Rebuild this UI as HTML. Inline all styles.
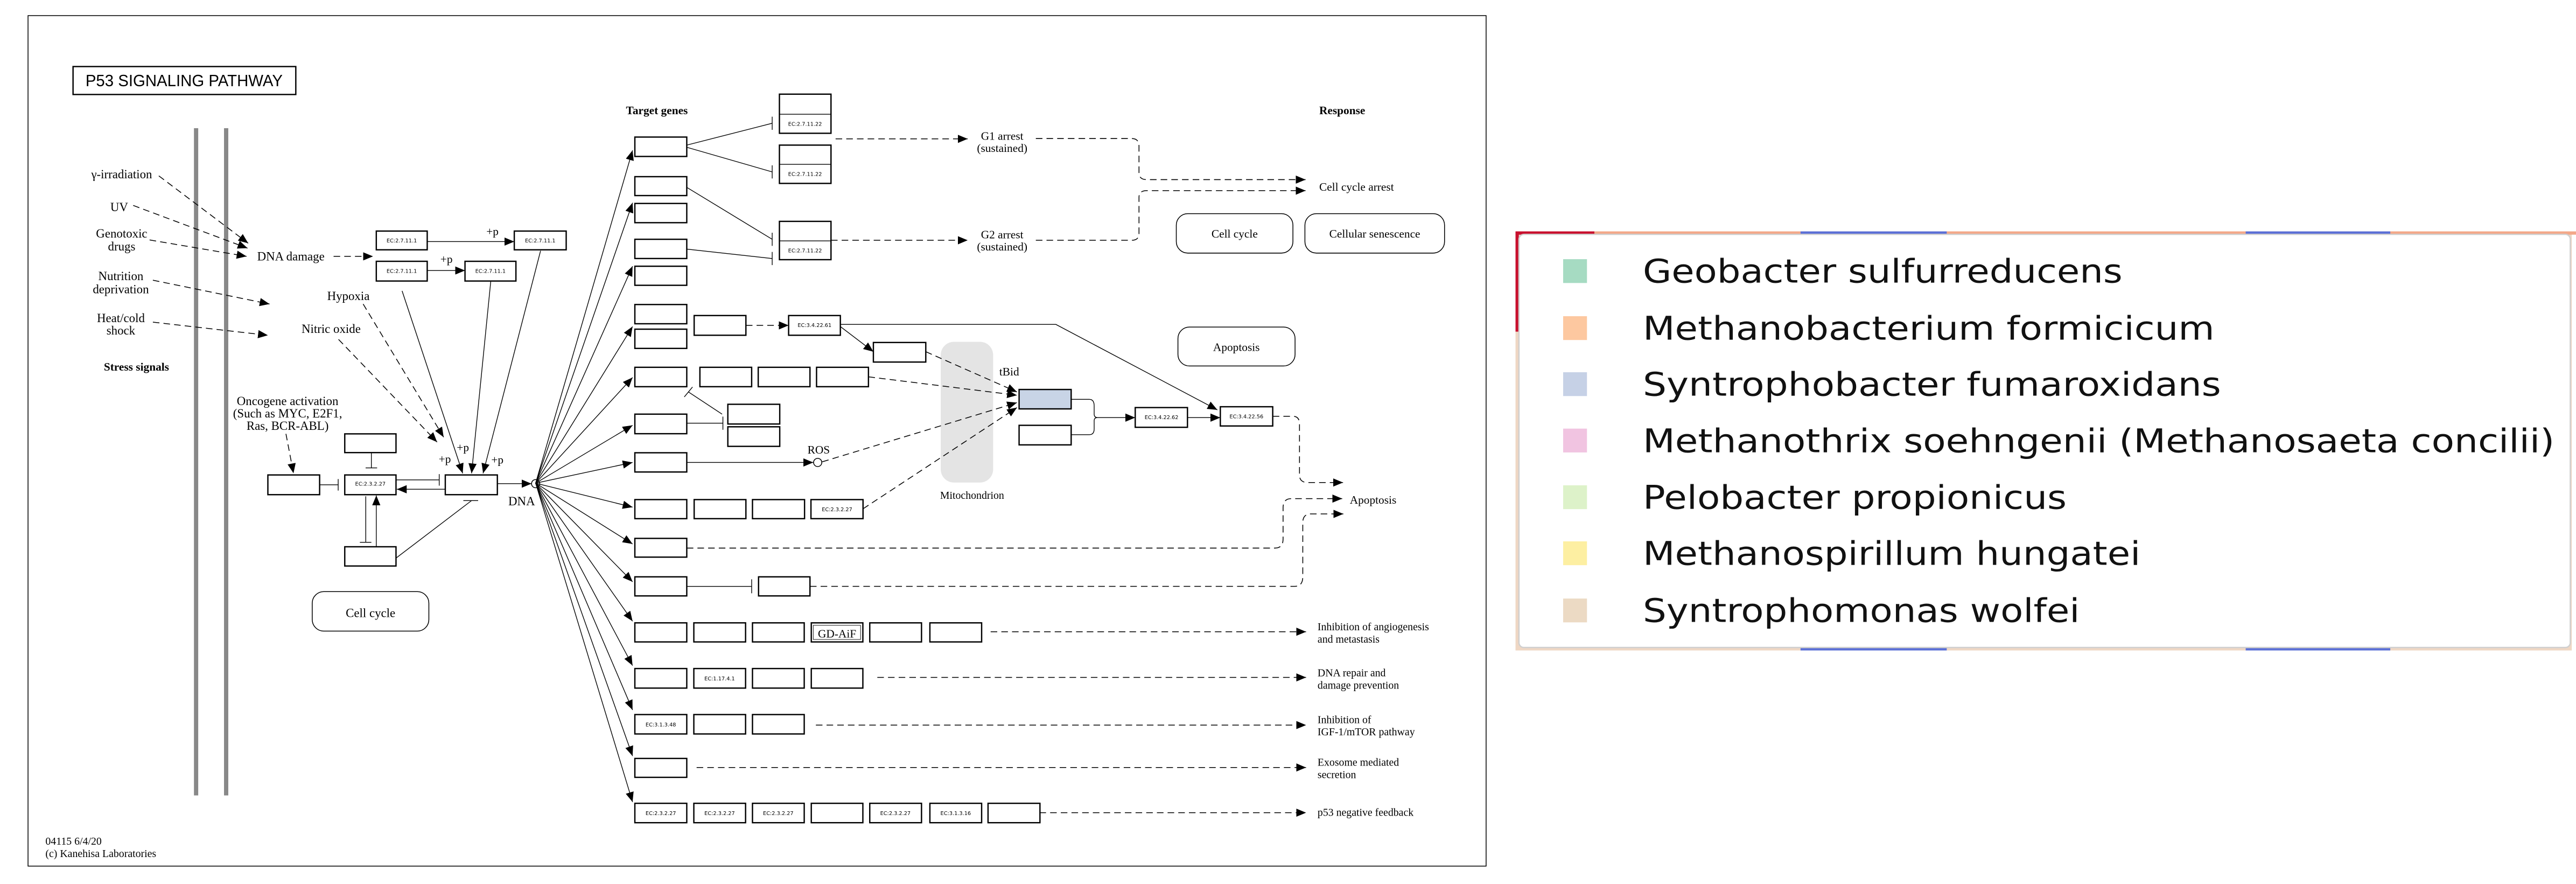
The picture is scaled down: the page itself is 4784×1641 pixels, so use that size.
<!DOCTYPE html>
<html><head><meta charset="utf-8"><style>
html,body{margin:0;padding:0;background:#fff;}
svg{display:block;}
.s{font-family:"Liberation Serif",serif;fill:#000;}
.ec{font-family:"DejaVu Sans","Liberation Sans",sans-serif;font-size:3.2px;fill:#000;text-anchor:middle;}
.b{fill:#fff;stroke:#000;stroke-width:0.8;}
.l{stroke:#000;stroke-width:0.45;fill:none;}
.d{stroke:#000;stroke-width:0.5;fill:none;stroke-dasharray:4,2.5;}
.lg{font-family:"DejaVu Sans",sans-serif;font-size:20px;fill:#111;}
</style></head><body>
<svg width="4784" height="1641" viewBox="0 0 1568 537.9" xmlns="http://www.w3.org/2000/svg">
<defs>
<marker id="a" markerUnits="userSpaceOnUse" markerWidth="7" markerHeight="6" refX="6" refY="2.5" orient="auto"><path d="M0,0 L6,2.5 L0,5 z" fill="#000"/></marker>
</defs>
<rect width="1568" height="538" fill="#fff"/>
<rect x="17" y="9.5" width="887.6" height="517.5" fill="#fff" stroke="#000" stroke-width="0.5"/>
<rect x="44.4" y="40.5" width="135.6" height="17" fill="#fff" stroke="#000" stroke-width="0.8"/>
<text x="112" y="52.5" font-family="Liberation Sans,sans-serif" font-size="10" text-anchor="middle" textLength="120" lengthAdjust="spacingAndGlyphs">P53 SIGNALING PATHWAY</text>
<rect x="118" y="78" width="2.6" height="406" fill="#888"/>
<rect x="136.3" y="78" width="2.6" height="406" fill="#888"/>
<rect x="190" y="360" width="71" height="24" rx="7" fill="#fff" stroke="#000" stroke-width="0.5"/>
<g class="s" font-size="7.5" text-anchor="middle">
<text x="74" y="108.5">γ-irradiation</text>
<text x="72.5" y="128.5">UV</text>
<text x="74" y="144.5">Genotoxic</text><text x="74" y="152.5">drugs</text>
<text x="73.5" y="170.5">Nutrition</text><text x="73.5" y="178.5">deprivation</text>
<text x="73.5" y="196">Heat/cold</text><text x="73.5" y="203.5">shock</text>
<text x="83" y="225.5" font-weight="bold" font-size="7">Stress signals</text>
<text x="177" y="158.5" >DNA damage</text>
<text x="212" y="182.5">Hypoxia</text>
<text x="201.5" y="202.5">Nitric oxide</text>
<text x="175" y="246.5">Oncogene activation</text>
<text x="175" y="254">(Such as MYC, E2F1,</text>
<text x="175" y="261.5">Ras, BCR-ABL)</text>
<text x="317.5" y="307.5">DNA</text>
<text x="225.5" y="375.5">Cell cycle</text>
</g>
<g class="d" marker-end="url(#a)">
<line x1="96.6" y1="107" x2="151" y2="148"/>
<line x1="81" y1="125" x2="150.6" y2="151"/>
<line x1="91" y1="146" x2="150" y2="156"/>
<line x1="93" y1="170.5" x2="164" y2="185"/>
<line x1="93" y1="196" x2="163" y2="204"/>
<line x1="203" y1="156" x2="227" y2="156"/>
<line x1="221" y1="185" x2="270" y2="266"/>
<line x1="206" y1="206.5" x2="266" y2="269"/>
<line x1="174" y1="264" x2="178.6" y2="288"/>
</g>
<rect class="b" x="229" y="140.6" width="31" height="11.4"/>
<rect class="b" x="229" y="159" width="31" height="12"/>
<rect class="b" x="283" y="159" width="31" height="12"/>
<rect class="b" x="313" y="140.6" width="31.6" height="11.4"/>
<g class="ec"><text x="244.5" y="147.5">EC:2.7.11.1</text><text x="244.5" y="166">EC:2.7.11.1</text><text x="298.5" y="166">EC:2.7.11.1</text><text x="328.8" y="147.5">EC:2.7.11.1</text></g>
<g class="l" marker-end="url(#a)">
<line x1="260" y1="147" x2="313" y2="147"/>
<line x1="260" y1="164.6" x2="283" y2="164.6"/>
<line x1="244.7" y1="177" x2="281.6" y2="288"/>
<line x1="298.7" y1="171" x2="287" y2="288"/>
<line x1="329" y1="152.6" x2="294" y2="288"/>
<line x1="302.7" y1="294.3" x2="323.5" y2="294.3"/>
<line x1="271" y1="297.7" x2="241.5" y2="297.7"/>
<line x1="229" y1="332.7" x2="229" y2="301.5"/>
</g>
<g class="s" font-size="7"><text x="296" y="143">+p</text><text x="268" y="160">+p</text><text x="278" y="274.5">+p</text><text x="267" y="281.5">+p</text><text x="299" y="282">+p</text></g>
<rect class="b" x="271" y="289" width="31.7" height="12"/>
<rect class="b" x="209.8" y="289" width="31.2" height="12"/>
<text class="ec" x="225.4" y="295.5">EC:2.3.2.27</text>
<rect class="b" x="209.8" y="264" width="31.2" height="11.4"/>
<rect class="b" x="209.8" y="332.7" width="31.2" height="11.7"/>
<rect class="b" x="163" y="289" width="31.5" height="12"/>
<circle cx="326" cy="294.3" r="2.5" fill="#fff" stroke="#000" stroke-width="0.5"/>
<g class="l">
<line x1="194.5" y1="295" x2="205.8" y2="295"/><line x1="205.8" y1="291.5" x2="205.8" y2="298.5"/>
<line x1="226" y1="275.4" x2="226" y2="284.7"/><line x1="222.5" y1="284.7" x2="229.5" y2="284.7"/>
<line x1="241" y1="292" x2="267.3" y2="292"/><line x1="267.3" y1="288.5" x2="267.3" y2="295.5"/>
<line x1="222.6" y1="302" x2="222.6" y2="330"/><line x1="219" y1="330" x2="226" y2="330"/>
<line x1="241" y1="339.6" x2="287" y2="304.6"/><line x1="282" y1="304.6" x2="291" y2="304.6"/>
</g>
<g class="s" font-size="6.5"><text x="27.6" y="514">04115 6/4/20</text><text x="27.6" y="521.5">(c) Kanehisa Laboratories</text></g>
<g class="s" font-weight="bold" font-size="7"><text x="381" y="69.5">Target genes</text><text x="803" y="69.5">Response</text></g>
<g class="l" marker-end="url(#a)">
<line x1="326" y1="294" x2="385" y2="91.5"/><line x1="326" y1="294" x2="385" y2="123.4"/>
<line x1="326" y1="294" x2="385" y2="162"/><line x1="326" y1="294" x2="385" y2="198.7"/>
<line x1="326" y1="294" x2="385" y2="229.7"/><line x1="326" y1="294" x2="385" y2="258.8"/>
<line x1="326" y1="294" x2="385" y2="281.4"/><line x1="326" y1="294" x2="385" y2="308.6"/>
<line x1="326" y1="294" x2="385" y2="331"/><line x1="326" y1="294" x2="385" y2="354"/>
<line x1="326" y1="294" x2="385" y2="378"/><line x1="326" y1="294" x2="385" y2="405"/>
<line x1="326" y1="294" x2="385" y2="432"/><line x1="326" y1="294" x2="385" y2="460"/>
<line x1="326" y1="294" x2="385" y2="488"/>
</g>
<g class="b">
<rect x="386.4" y="83.4" width="31.6" height="11.8"/><rect x="386.4" y="107.5" width="31.6" height="11.5"/>
<rect x="386.4" y="123.8" width="31.6" height="11.7"/><rect x="386.4" y="145.6" width="31.6" height="11.7"/>
<rect x="386.4" y="162" width="31.6" height="11.6"/><rect x="386.4" y="185.3" width="31.6" height="11.7"/>
<rect x="386.4" y="200.3" width="31.6" height="11.7"/><rect x="386.4" y="223.5" width="31.6" height="11.8"/>
<rect x="386.4" y="252" width="31.6" height="11.9"/><rect x="386.4" y="275.5" width="31.6" height="11.7"/>
<rect x="386.4" y="304" width="31.6" height="11.6"/><rect x="386.4" y="327.6" width="31.6" height="11.4"/>
<rect x="386.4" y="351" width="31.6" height="11.6"/><rect x="386.4" y="379" width="31.6" height="11.6"/>
<rect x="386.4" y="406.8" width="31.6" height="11.9"/><rect x="386.4" y="434.8" width="31.6" height="11.8"/>
<rect x="386.4" y="461.5" width="31.6" height="11.5"/><rect x="386.4" y="488.8" width="31.6" height="11.8"/>
<rect x="474.4" y="57.3" width="31.4" height="23.8"/><rect x="474.4" y="88.3" width="31.4" height="23.3"/><rect x="474.4" y="134.7" width="31.4" height="23.3"/>
<rect x="422.5" y="192" width="31.5" height="12"/><rect x="480" y="192" width="31.5" height="12"/><rect x="531.6" y="208.4" width="31.9" height="11.9"/>
<rect x="426" y="223.5" width="31.5" height="11.8"/><rect x="461.5" y="223.5" width="31.5" height="11.8"/><rect x="497" y="223.5" width="31.6" height="11.8"/>
<rect x="443" y="246" width="31.6" height="12"/><rect x="443" y="259.7" width="31.6" height="11.9"/>
<rect x="422.5" y="304" width="31.5" height="11.6"/><rect x="458" y="304" width="31.7" height="11.6"/><rect x="493.6" y="304" width="31.7" height="11.6"/>
<rect x="620.3" y="258.8" width="31.7" height="11.9"/>
<rect x="691" y="248" width="31.8" height="12"/><rect x="742.8" y="247.5" width="31.9" height="11.7"/>
<rect x="461.7" y="351" width="31.3" height="11.6"/>
<rect x="422.3" y="379" width="31.5" height="11.6"/><rect x="458" y="379" width="31.5" height="11.6"/><rect x="493.8" y="379" width="31.4" height="11.6"/><rect x="529.4" y="379" width="31.5" height="11.6"/><rect x="566" y="379" width="31.5" height="11.6"/>
<rect x="422.3" y="406.8" width="31.5" height="11.9"/><rect x="458" y="406.8" width="31.5" height="11.9"/><rect x="493.8" y="406.8" width="31.4" height="11.9"/>
<rect x="422.3" y="434.8" width="31.5" height="11.8"/><rect x="458" y="434.8" width="31.5" height="11.8"/>
<rect x="422.3" y="488.8" width="31.5" height="11.8"/><rect x="458" y="488.8" width="31.5" height="11.8"/><rect x="493.8" y="488.8" width="31.4" height="11.8"/><rect x="529.4" y="488.8" width="31.5" height="11.8"/><rect x="566" y="488.8" width="31.5" height="11.8"/><rect x="601.4" y="488.8" width="31.6" height="11.8"/>
</g>
<rect x="495" y="380.5" width="28.8" height="8.6" fill="none" stroke="#000" stroke-width="0.3"/>
<g class="l"><line x1="474.4" y1="69.5" x2="505.8" y2="69.5"/><line x1="474.4" y1="100" x2="505.8" y2="100"/><line x1="474.4" y1="146.6" x2="505.8" y2="146.6"/></g>
<g class="ec">
<text x="490" y="76.5">EC:2.7.11.22</text><text x="490" y="107">EC:2.7.11.22</text><text x="490" y="153.5">EC:2.7.11.22</text>
<text x="495.8" y="199">EC:3.4.22.61</text><text x="509.5" y="311">EC:2.3.2.27</text>
<text x="707" y="255">EC:3.4.22.62</text><text x="758.7" y="254.5">EC:3.4.22.56</text>
<text x="438" y="414">EC:1.17.4.1</text><text x="402.2" y="442">EC:3.1.3.48</text>
<text x="402.2" y="496">EC:2.3.2.27</text><text x="438" y="496">EC:2.3.2.27</text><text x="473.7" y="496">EC:2.3.2.27</text><text x="545" y="496">EC:2.3.2.27</text><text x="581.7" y="496">EC:3.1.3.16</text>
</g>
<text class="s" x="509.5" y="388" font-size="7" text-anchor="middle">GD-AiF</text>
<g class="l">
<line x1="418" y1="88.3" x2="470" y2="75"/><line x1="470" y1="71" x2="470" y2="79"/>
<line x1="418" y1="89.6" x2="470" y2="104.6"/><line x1="470" y1="100.6" x2="470" y2="108.6"/>
<line x1="418" y1="114" x2="470" y2="145.6"/><line x1="470" y1="141.6" x2="470" y2="149.6"/>
<line x1="418" y1="151.6" x2="470" y2="157.3"/><line x1="470" y1="153.3" x2="470" y2="161.3"/>
<line x1="439.5" y1="252" x2="419" y2="238.5"/><line x1="416.5" y1="241.5" x2="421.5" y2="235.5"/>
<line x1="418" y1="257.5" x2="440" y2="257.5"/><line x1="440" y1="253.5" x2="440" y2="261.5"/>
<line x1="418" y1="356.8" x2="457.5" y2="356.8"/><line x1="457.5" y1="352.5" x2="457.5" y2="361"/>
</g>
<g class="l" marker-end="url(#a)">
<line x1="418" y1="281.4" x2="495" y2="281.4"/>
<line x1="511.5" y1="198.7" x2="531.6" y2="214"/>
<polyline points="511.5,197.4 642.7,197.4 741,249.4"/>
<line x1="722.8" y1="254.1" x2="742.8" y2="254.1"/>
</g>
<path class="l" d="M652,243 H663 Q666,243 666,247 V252 Q666,254 668,254.1 H691" marker-end="url(#a)"/>
<path class="l" d="M652,264.5 H663 Q666,264.5 666,261 V256 Q666,254.1 668,254.1"/>
<circle cx="497.7" cy="281.4" r="2.5" fill="#fff" stroke="#000" stroke-width="0.5"/>
<text class="s" x="498.3" y="276" font-size="7" text-anchor="middle">ROS</text>
<rect x="572.6" y="208" width="31.9" height="85.6" rx="8" fill="#e4e4e4"/>
<text class="s" x="591.7" y="303.5" font-size="6.5" text-anchor="middle">Mitochondrion</text>
<text class="s" x="614.3" y="228.5" font-size="7" text-anchor="middle">tBid</text>
<rect x="620.3" y="237" width="31.7" height="11.8" fill="#c8d4e6" stroke="#000" stroke-width="0.8"/>
<g class="d" marker-end="url(#a)">
<line x1="454" y1="198" x2="480" y2="198"/>
<line x1="563.5" y1="214" x2="619" y2="238.5"/>
<line x1="528.6" y1="229.3" x2="619" y2="240.5"/>
<line x1="500.5" y1="281" x2="619" y2="245"/>
<line x1="525.3" y1="309.6" x2="619" y2="248"/>
<line x1="508.6" y1="84.5" x2="589" y2="84.5"/>
<line x1="505.8" y1="146.2" x2="589" y2="146.2"/>
<path d="M630.5,84.3 H689 Q693.3,84.3 693.3,89 V105 Q693.3,109.3 698,109.3 H794.7"/>
<path d="M630.5,146.2 H689 Q693.3,146.2 693.3,142 V120 Q693.3,116 698,116 H794.7"/>
<path d="M774.7,253.3 H787 Q791,253.3 791,258 V289 Q791,293.6 796,293.6 H817.5"/>
<path d="M418,333.5 H776 Q781,333.5 781,328 V309 Q781,303.4 786,303.4 H817"/>
<path d="M493,356.8 H788 Q793,356.8 793,351 V318 Q793,312.7 798,312.7 H817.7"/>
<line x1="603" y1="384.4" x2="795" y2="384.4"/>
<line x1="534" y1="412.2" x2="795" y2="412.2"/>
<line x1="496.6" y1="441.2" x2="795" y2="441.2"/>
<line x1="424" y1="467" x2="795" y2="467"/>
<line x1="632.7" y1="494.5" x2="795" y2="494.5"/>
</g>
<g class="s" font-size="7" text-anchor="middle">
<text x="610" y="85">G1 arrest</text><text x="610" y="92.5">(sustained)</text>
<text x="610" y="145">G2 arrest</text><text x="610" y="152.5">(sustained)</text>
</g>
<g class="s" font-size="7">
<text x="803" y="116">Cell cycle arrest</text>
<text x="821.6" y="306.5">Apoptosis</text>
<text x="802" y="383.5" font-size="6.5">Inhibition of angiogenesis</text><text x="802" y="391" font-size="6.5">and metastasis</text>
<text x="802" y="411.5" font-size="6.5">DNA repair and</text><text x="802" y="419" font-size="6.5">damage prevention</text>
<text x="802" y="440" font-size="6.5">Inhibition of</text><text x="802" y="447.5" font-size="6.5">IGF-1/mTOR pathway</text>
<text x="802" y="466" font-size="6.5">Exosome mediated</text><text x="802" y="473.5" font-size="6.5">secretion</text>
<text x="802" y="496.5" font-size="6.5">p53 negative feedback</text>
</g>
<g fill="#fff" stroke="#000" stroke-width="0.5">
<rect x="716" y="130" width="71" height="24" rx="7"/>
<rect x="794.3" y="130" width="85" height="24" rx="7"/>
<rect x="717" y="199" width="71.3" height="23.7" rx="7"/>
</g>
<g class="s" font-size="7" text-anchor="middle">
<text x="751.5" y="144.5">Cell cycle</text><text x="836.8" y="144.5">Cellular senescence</text><text x="752.6" y="213.5">Apoptosis</text>
</g>
<rect x="922.5" y="140.8" width="643" height="255" fill="#efd7c4"/>
<rect x="922.5" y="140.8" width="647" height="2" fill="#f3a889"/>
<rect x="922.5" y="140.8" width="48" height="2" fill="#c8102e"/>
<rect x="922.5" y="140.8" width="2" height="61" fill="#c8102e"/>
<rect x="1096" y="140.8" width="89" height="2" fill="#5b6fd6"/>
<rect x="1367" y="140.8" width="88" height="2" fill="#5b6fd6"/>
<rect x="1096" y="393.5" width="89" height="2.3" fill="#5b6fd6"/>
<rect x="1367" y="393.5" width="88" height="2.3" fill="#5b6fd6"/>
<rect x="924.6" y="142.6" width="640" height="251.4" rx="3" fill="#fff" stroke="#cfcfcf" stroke-width="0.8"/>
<rect x="951.5" y="157.7" width="14.5" height="14.5" fill="#a6dbc2"/>
<rect x="951.5" y="192.4" width="14.5" height="14.5" fill="#fdc8a0"/>
<rect x="951.5" y="226.5" width="14.5" height="14.5" fill="#c6d1e6"/>
<rect x="951.5" y="260.8" width="14.5" height="14.5" fill="#f1c4e1"/>
<rect x="951.5" y="295.3" width="14.5" height="14.5" fill="#ddf2c9"/>
<rect x="951.5" y="329.4" width="14.5" height="14.5" fill="#fdefa2"/>
<rect x="951.5" y="364.2" width="14.5" height="14.5" fill="#ecdac4"/>
<g class="lg">
<text x="1000" y="172" textLength="292" lengthAdjust="spacingAndGlyphs">Geobacter sulfurreducens</text>
<text x="1000" y="206.7" textLength="348" lengthAdjust="spacingAndGlyphs">Methanobacterium formicicum</text>
<text x="1000" y="240.8" textLength="352" lengthAdjust="spacingAndGlyphs">Syntrophobacter fumaroxidans</text>
<text x="1000" y="275.1" textLength="555" lengthAdjust="spacingAndGlyphs">Methanothrix soehngenii (Methanosaeta concilii)</text>
<text x="1000" y="309.6" textLength="258" lengthAdjust="spacingAndGlyphs">Pelobacter propionicus</text>
<text x="1000" y="343.7" textLength="303" lengthAdjust="spacingAndGlyphs">Methanospirillum hungatei</text>
<text x="1000" y="378.5" textLength="266" lengthAdjust="spacingAndGlyphs">Syntrophomonas wolfei</text>
</g>
</svg>
</body></html>
